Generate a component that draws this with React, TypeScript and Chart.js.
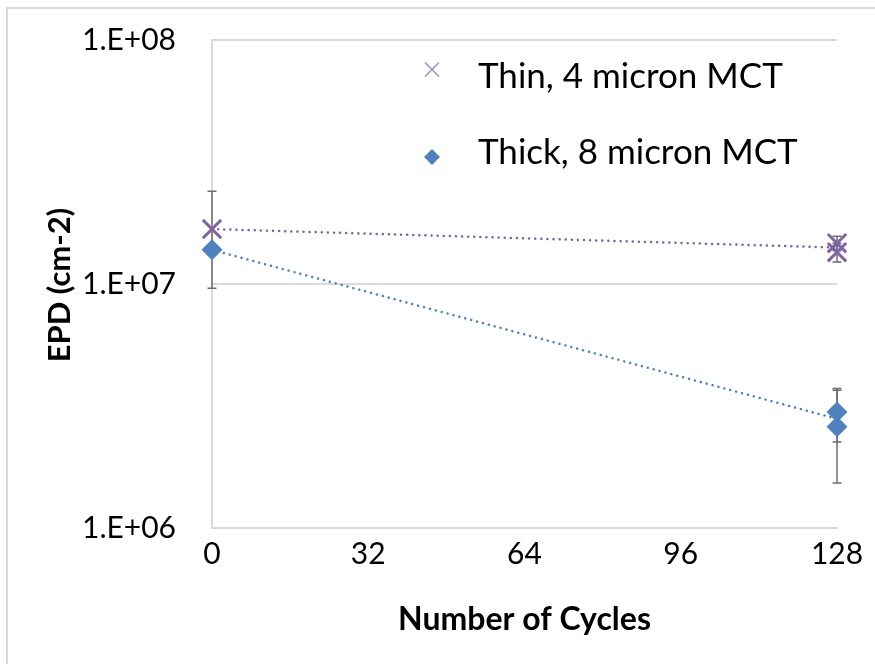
import React, { useEffect, useRef } from "react";
import { Chart, registerables } from "chart.js";

Chart.register(...registerables);

// ---- data ----
const thinX = [0, 128, 128];
const thinY = [1.68e7, 1.47e7, 1.35e7];
const thinErr = [0.72e7, 0.1e7, 0.12e7];

const thickX = [0, 128, 128];
const thickY = [1.38e7, 2.99e6, 2.6e6];
const thickErr = [0, 0.74e6, 1.07e6];

const trendX = [0, 128];
const thinTrendY = [1.68e7, 1.41e7];
const thickTrendY = [1.38e7, 2.8e6];

const xTicks = [0, 32, 64, 96, 128];
const yTicks = [1e6, 1e7, 1e8];
const yTickLabels = ["1.E+06", "1.E+07", "1.E+08"];

const seriesNames = ["Thin, 4 micron MCT", "Thick, 8 micron MCT"];
const xTitle = "Number of Cycles";
const yTitle = "EPD (cm-2)";

const PURPLE = "#8064A2";
const BLUE = "#4F81BD";
const GRID = "#d9d9d9";
const ERR = "#6e6e6e";
const FONT = "Lato, 'Noto Sans', sans-serif";

const pts = (xs: number[], ys: number[]) => xs.map((x, i) => ({ x, y: ys[i] }));

const errorBarPlugin = {
  id: "errorBars",
  beforeDatasetsDraw(chart: any) {
    const { ctx } = chart;
    const xs = chart.scales.x;
    const ys = chart.scales.y;
    const draw = (xArr: number[], yArr: number[], eArr: number[]) => {
      xArr.forEach((xv, i) => {
        const e = eArr[i];
        if (!e) return;
        const px = xs.getPixelForValue(xv);
        const top = ys.getPixelForValue(yArr[i] + e);
        const bot = ys.getPixelForValue(yArr[i] - e);
        ctx.save();
        ctx.strokeStyle = ERR;
        ctx.lineWidth = 1.5;
        ctx.beginPath();
        ctx.moveTo(px, top);
        ctx.lineTo(px, bot);
        ctx.moveTo(px - 4.5, top);
        ctx.lineTo(px + 4.5, top);
        ctx.moveTo(px - 4.5, bot);
        ctx.lineTo(px + 4.5, bot);
        ctx.stroke();
        ctx.restore();
      });
    };
    draw(thinX, thinY, thinErr);
    draw(thickX, thickY, thickErr);
  },
};

const frameLegendPlugin = {
  id: "frameLegend",
  afterDraw(chart: any) {
    const { ctx, chartArea } = chart;
    ctx.save();
    // outer frame
    ctx.strokeStyle = GRID;
    ctx.lineWidth = 2;
    ctx.strokeRect(7, 8, 1000, 1000);
    // y axis title
    ctx.save();
    ctx.translate(60, (chartArea.top + chartArea.bottom) / 2 + 1);
    ctx.rotate(-Math.PI / 2);
    ctx.fillStyle = "#000";
    ctx.font = `bold 31px ${FONT}`;
    ctx.textAlign = "center";
    ctx.textBaseline = "middle";
    ctx.fillText(yTitle, 0, 0);
    ctx.restore();
    // legend
    const mx = 432;
    const rows = [69.5, 157];
    ctx.strokeStyle = "#9d8cc0";
    ctx.lineWidth = 1.5;
    ctx.beginPath();
    ctx.moveTo(mx - 7, rows[0] - 7);
    ctx.lineTo(mx + 7, rows[0] + 7);
    ctx.moveTo(mx + 7, rows[0] - 7);
    ctx.lineTo(mx - 7, rows[0] + 7);
    ctx.stroke();
    ctx.fillStyle = BLUE;
    ctx.beginPath();
    ctx.moveTo(mx, rows[1] - 8);
    ctx.lineTo(mx + 8, rows[1]);
    ctx.lineTo(mx, rows[1] + 8);
    ctx.lineTo(mx - 8, rows[1]);
    ctx.closePath();
    ctx.fill();
    ctx.fillStyle = "#000";
    ctx.font = `35px ${FONT}`;
    ctx.textBaseline = "alphabetic";
    ctx.textAlign = "left";
    ctx.fillText(seriesNames[0], 478, 88);
    ctx.fillText(seriesNames[1], 478, 164);
    ctx.restore();
  },
};

export default function App() {
  const ref = useRef<HTMLCanvasElement>(null);
  useEffect(() => {
    if (!ref.current) return;
    const chart = new Chart(ref.current, {
      type: "scatter",
      data: {
        datasets: [
          {
            label: seriesNames[0],
            data: pts(thinX, thinY),
            pointStyle: "crossRot",
            pointRadius: 13,
            pointBorderWidth: 3,
            borderColor: PURPLE,
            backgroundColor: PURPLE,
            showLine: false,
            clip: false,
          },
          {
            label: seriesNames[1],
            data: pts(thickX, thickY),
            pointStyle: "rectRot",
            pointRadius: 10.5,
            pointBorderWidth: 0,
            borderColor: BLUE,
            backgroundColor: BLUE,
            showLine: false,
            clip: false,
          },
          {
            label: "thin trend",
            data: pts(trendX, thinTrendY),
            showLine: true,
            pointRadius: 0,
            borderColor: PURPLE,
            borderWidth: 2.5,
            borderDash: [0.1, 6],
            borderCapStyle: "round",
            clip: false,
          },
          {
            label: "thick trend",
            data: pts(trendX, thickTrendY),
            showLine: true,
            pointRadius: 0,
            borderColor: BLUE,
            borderWidth: 2.5,
            borderDash: [0.1, 6],
            borderCapStyle: "round",
            clip: false,
          },
        ],
      },
      options: {
        animation: false,
        responsive: false,
        layout: { padding: { left: 0, right: 38, top: 40, bottom: 0 } },
        plugins: {
          legend: { display: false },
          tooltip: { enabled: false },
        },
        scales: {
          x: {
            type: "linear",
            min: 0,
            max: 128,
            afterBuildTicks: (s: any) => {
              s.ticks = xTicks.map((v) => ({ value: v }));
            },
            afterFit: (s: any) => {
              s.height = 136;
              s.paddingLeft = 0;
              s.paddingRight = 0;
            },
            grid: { display: false, drawTicks: false },
            border: { display: true, color: GRID, width: 2 },
            ticks: {
              color: "#000",
              padding: 8,
              font: { family: FONT, size: 30 },
              maxRotation: 0,
            },
            title: {
              display: true,
              text: xTitle,
              color: "#000",
              font: { family: FONT, size: 32, weight: "bold" },
              padding: { top: 0, bottom: 25 },
            },
          },
          y: {
            type: "logarithmic",
            min: 1e6,
            max: 1e8,
            afterBuildTicks: (s: any) => {
              s.ticks = yTicks.map((v) => ({ value: v }));
            },
            afterFit: (s: any) => {
              s.width = 212;
              s.paddingTop = 0;
              s.paddingBottom = 0;
            },
            grid: { color: GRID, lineWidth: 2, drawTicks: false },
            border: { display: true, color: GRID, width: 2 },
            ticks: {
              color: "#000",
              padding: 36,
              font: { family: FONT, size: 30 },
              callback: (v: any) => {
                const i = yTicks.indexOf(Number(v));
                return i >= 0 ? yTickLabels[i] : "";
              },
            },
            title: { display: false },
          },
        },
      },
      plugins: [errorBarPlugin, frameLegendPlugin],
    } as any);
    return () => chart.destroy();
  }, []);
  return (
    <div style={{ position: "fixed", left: 0, top: 0, width: 875, height: 664, background: "#fff" }}>
      <canvas ref={ref} width={875} height={664} />
    </div>
  );
}
